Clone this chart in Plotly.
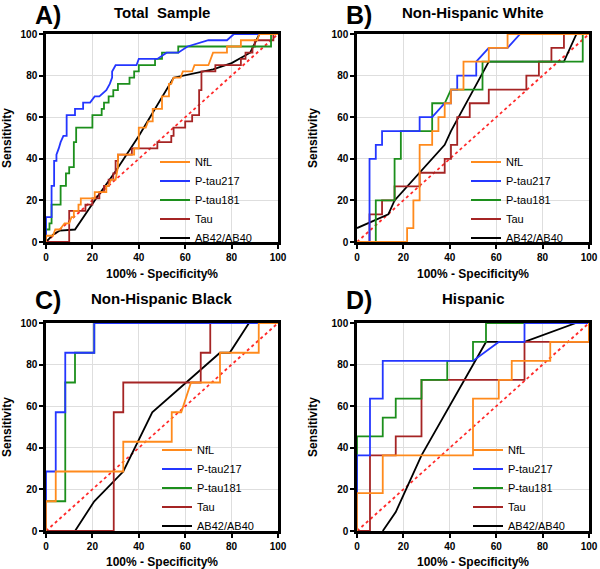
"""ROC curves of plasma biomarkers by ethnic group, redrawn with plotly."""
import plotly.graph_objects as go
from plotly.subplots import make_subplots

W, H = 600, 569

series_names = ['NfL', 'P-tau217', 'P-tau181', 'Tau', 'AB42/AB40']
series_colors = ['#FF8A1C', '#2436FF', '#1C8F1C', '#A52424', '#000000']
panel_letters = ['A)', 'B)', 'C)', 'D)']
panel_titles = ['Total  Sample', 'Non-Hispanic White', 'Non-Hispanic Black', 'Hispanic']
axis_ticks = [0, 20, 40, 60, 80, 100]
diag = [0, 100]

# --- A) Total sample ---
a_nfl_x = [0, 0, 3, 4, 6, 8, 10, 11, 12, 12, 14, 14, 15, 15, 21, 21, 26, 26, 27, 28, 30, 31, 31, 38, 38,
           40, 40, 43, 44, 46, 46, 50, 50, 53, 53, 54, 55, 58, 59, 63, 64, 70, 71, 72, 78, 78, 84, 84,
           91, 92, 100]
a_nfl_y = [0, 3, 3, 6, 6, 9, 9, 12, 12, 15, 15, 18, 18, 21, 21, 24, 24, 27, 27, 30, 30, 36, 42, 42, 45,
           45, 55, 55, 58, 58, 64, 64, 70, 70, 76, 76, 79, 79, 82, 82, 85, 85, 88, 91, 91, 94, 94, 97,
           97, 100, 100]
a_p217_x = [0, 0, 2.4, 2.4, 3.5, 3.5, 4.5, 4.5, 5.5, 6.3, 7.5, 8.9, 8.9, 12.5, 12.5, 16, 16, 19, 21, 23,
            26, 27.5, 28.5, 28.5, 30, 39, 40, 48, 52, 57, 61, 70, 78, 81, 100]
a_p217_y = [0, 12, 12, 27, 27, 39, 39, 42, 45, 48, 51, 51, 61, 61, 64, 64, 67, 67, 70, 70,
            73, 76, 79, 82, 85, 85, 88, 88, 91, 91, 94, 97, 97, 100, 100]
a_p181_x = [0, 0, 1.5, 1.5, 2.4, 2.4, 6.3, 6.3, 8.6, 8.6, 10, 10, 12, 12, 13, 13, 20, 20, 24, 24, 25, 25,
            27, 27, 29, 29, 31, 31, 36, 36, 38, 38, 40, 40, 47, 47, 50, 50, 57, 57, 97, 97, 100]
a_p181_y = [0, 6, 6, 9, 9, 18, 18, 27, 27, 33, 33, 36, 36, 48, 48, 55, 55, 61, 61, 64, 64, 67,
            67, 70, 70, 73, 73, 76, 76, 79, 79, 82, 82, 85, 85, 88, 88, 91, 91, 94, 94, 100, 100]
a_tau_x = [0, 10, 10, 17, 17, 20, 20, 23, 23, 25, 25, 27, 27, 29, 29, 30, 30, 31, 31, 37, 37, 48, 48, 54,
           54, 55, 55, 60, 60, 63, 63, 66, 66, 67, 67, 73, 73, 84, 84, 86, 86, 89, 89, 90, 90, 98, 98, 100]
a_tau_y = [0, 0, 15, 15, 18, 18, 21, 21, 24, 24, 27, 27, 30, 30, 33, 33, 39, 39, 42, 42, 45, 45, 48, 48,
           51, 51, 55, 55, 58, 58, 61, 61, 73, 73, 82, 82, 85, 85, 88, 88, 91, 91, 94, 94, 97, 97, 100, 100]
a_ab_x = [0, 3, 6, 12.5, 21, 30, 40, 48, 55, 72, 80, 88, 92, 100]
a_ab_y = [0, 3.5, 5.5, 6, 20, 34, 51, 66, 79, 83, 86, 91, 100, 100]

# --- B) Non-Hispanic White ---
b_nfl_x = [0, 21.6, 21.6, 24.3, 24.3, 27, 27, 32.4, 32.4, 35.1, 35.1, 37.8, 37.8, 40.5, 40.5, 45.9,
           45.9, 56.8, 56.8, 64.9, 64.9, 100]
b_nfl_y = [0, 0, 6.7, 6.7, 20, 20, 46.7, 46.7, 53.3, 53.3, 60, 60, 66.7, 66.7, 73.3, 73.3,
           86.7, 86.7, 93.3, 93.3, 100, 100]
b_p217_x = [0, 5.4, 5.4, 8.1, 8.1, 10.8, 10.8, 27, 27, 32.4, 37.8, 40.5, 40.5, 43.2, 43.2, 51.4, 51.4,
            56.8, 64.9, 70.3, 100]
b_p217_y = [0, 0, 40, 40, 46.7, 46.7, 53.3, 53.3, 60, 60, 66.7, 66.7, 73.3, 73.3, 80, 80, 86.7,
            93.3, 93.3, 100, 100]
b_p181_x = [0, 8.1, 8.1, 16.2, 16.2, 18.9, 18.9, 32.4, 32.4, 37.8, 40.5, 54.1, 54.1, 97.3, 97.3, 100]
b_p181_y = [0, 0, 20, 20, 40, 40, 53.3, 53.3, 66.7, 66.7, 73.3, 73.3, 86.7, 86.7, 100, 100]
b_tau_x = [0, 5.4, 5.4, 10.8, 10.8, 16.2, 16.2, 27, 27, 37.8, 37.8, 40.5, 40.5, 43.2, 43.2, 48.6, 48.6,
           56.8, 56.8, 73, 73, 78.4, 78.4, 83.8, 83.8, 89.2, 89.2, 100]
b_tau_y = [0, 0, 13.3, 13.3, 20, 20, 26.7, 26.7, 33.3, 33.3, 40, 40, 46.7, 46.7, 60, 60, 66.7,
           66.7, 73.3, 73.3, 80, 80, 86.7, 86.7, 93.3, 93.3, 100, 100]
b_ab_x = [0, 13.5, 16.2, 27, 37.8, 40.5, 56.8, 89.2, 94.6, 100]
b_ab_y = [6.7, 13.3, 20, 33.3, 46.7, 53.3, 86.7, 86.7, 100, 100]

# --- C) Non-Hispanic Black ---
c_nfl_x = [0, 0, 4.2, 4.2, 33.3, 33.3, 54.2, 54.2, 58.3, 62.5, 75, 75, 91.7, 91.7, 100]
c_nfl_y = [0, 14.3, 14.3, 28.6, 28.6, 42.9, 42.9, 57.1, 57.1, 71.4, 71.4, 85.7, 85.7, 100, 100]
c_p217_x = [0, 0, 4.2, 4.2, 8.3, 8.3, 20.8, 20.8, 100]
c_p217_y = [0, 28.6, 28.6, 57.1, 57.1, 85.7, 85.7, 100, 100]
c_p181_x = [0, 0, 8.3, 8.3, 12.5, 12.5, 20.8, 20.8, 100]
c_p181_y = [0, 14.3, 14.3, 71.4, 71.4, 85.7, 85.7, 100, 100]
c_tau_x = [0, 29.2, 29.2, 33.3, 33.3, 66.7, 66.7, 70.8, 70.8, 100]
c_tau_y = [0, 0, 57.1, 57.1, 71.4, 71.4, 85.7, 85.7, 100, 100]
c_ab_x = [12.5, 20.8, 33.3, 45.8, 75, 79.2, 87.5, 100]
c_ab_y = [0, 14.3, 28.6, 57.1, 85.7, 85.7, 100, 100]

# --- D) Hispanic ---
d_nfl_x = [0, 0, 11.1, 11.1, 50, 50, 61.1, 61.1, 66.7, 66.7, 83.3, 83.3, 100, 100]
d_nfl_y = [0, 18.2, 18.2, 36.4, 36.4, 63.6, 63.6, 72.7, 72.7, 81.8, 81.8, 90.9, 90.9, 100]
d_p217_x = [0, 0, 5.6, 5.6, 11.1, 11.1, 50, 61.1, 72.2, 72.2, 100]
d_p217_y = [0, 36.4, 36.4, 63.6, 63.6, 81.8, 81.8, 90.9, 90.9, 100, 100]
d_p181_x = [0, 0, 11.1, 11.1, 16.7, 16.7, 27.8, 27.8, 38.9, 38.9, 50, 50, 55.6, 55.6, 100]
d_p181_y = [0, 45.5, 45.5, 54.5, 54.5, 63.6, 63.6, 72.7, 72.7, 81.8, 81.8, 90.9, 90.9, 100, 100]
d_tau_x = [0, 5.6, 5.6, 16.7, 16.7, 27.8, 27.8, 72.2, 72.2, 100, 100]
d_tau_y = [0, 0, 36.4, 36.4, 45.5, 45.5, 72.7, 72.7, 90.9, 90.9, 100]
d_ab_x = [11.1, 16.7, 27.8, 55.6, 72.2, 94.4, 100]
d_ab_y = [0, 9.1, 36.4, 90.9, 90.9, 100, 100]

panels = [
    [(a_nfl_x, a_nfl_y), (a_p217_x, a_p217_y), (a_p181_x, a_p181_y), (a_tau_x, a_tau_y), (a_ab_x, a_ab_y)],
    [(b_nfl_x, b_nfl_y), (b_p217_x, b_p217_y), (b_p181_x, b_p181_y), (b_tau_x, b_tau_y), (b_ab_x, b_ab_y)],
    [(c_nfl_x, c_nfl_y), (c_p217_x, c_p217_y), (c_p181_x, c_p181_y), (c_tau_x, c_tau_y), (c_ab_x, c_ab_y)],
    [(d_nfl_x, d_nfl_y), (d_p217_x, d_p217_y), (d_p181_x, d_p181_y), (d_tau_x, d_tau_y), (d_ab_x, d_ab_y)],
]

FONT = 'Liberation Sans, Arial, sans-serif'


def px_x(p):
    """Pixel from the left to paper fraction."""
    return p / W


def px_y(p):
    """Pixel from the top to paper fraction."""
    return 1 - p / H


# plot boxes in pixels (left, right, top, bottom)
boxes = [(46, 278, 34, 242), (357, 589, 34, 242), (46, 278, 323, 531), (357, 589, 323, 531)]
# legend left edge and vertical centre, pixels
legend_pos = [(155, 200), (466, 200), (157, 488), (468, 488)]

fig = make_subplots(rows=2, cols=2)

for i, data in enumerate(panels):
    row, col = i // 2 + 1, i % 2 + 1
    legend_id = 'legend' if i == 0 else f'legend{i + 1}'
    fig.add_trace(go.Scatter(x=diag, y=diag, mode='lines', showlegend=False,
                             line=dict(color='#FF2A2A', width=1.8, dash='3px,3px')),
                  row=row, col=col)
    # draw black first so NfL ends up on top (as in the original)
    for k in reversed(range(len(series_names))):
        xs, ys = data[k]
        fig.add_trace(go.Scatter(x=xs, y=ys, mode='lines', name=series_names[k],
                                 legend=legend_id,
                                 line=dict(color=series_colors[k], width=1.8)),
                      row=row, col=col)

    left, right, top, bottom = boxes[i]
    axis_style = dict(range=[0, 100], tickvals=axis_ticks, showline=True, linewidth=2.5,
                      linecolor='black', mirror=True, ticks='outside', ticklen=4, tickwidth=2,
                      tickcolor='black', showgrid=True, gridcolor='#DEDEDE', gridwidth=1,
                      zeroline=False, automargin=False,
                      tickfont=dict(family=FONT, size=10, color='black', weight='bold'))
    fig.update_xaxes(domain=[px_x(left), px_x(right)],
                     title=dict(text='100% - Specificity%', standoff=8,
                                font=dict(family=FONT, size=12, color='black', weight='bold')),
                     row=row, col=col, **axis_style)
    fig.update_yaxes(domain=[px_y(bottom), px_y(top)],
                     title=dict(text='Sensitivity', standoff=12,
                                font=dict(family=FONT, size=12, color='black', weight='bold')),
                     row=row, col=col, **axis_style)

    lx, ly = legend_pos[i]
    fig.update_layout({legend_id: dict(x=px_x(lx), y=px_y(ly), xanchor='left', yanchor='middle',
                                       traceorder='reversed', bgcolor='rgba(0,0,0,0)',
                                       font=dict(family=FONT, size=11, color='black'))})

    mid_y = 15 if i < 2 else 300
    fig.add_annotation(x=px_x(left - 13), y=px_y(mid_y), xref='paper', yref='paper',
                       text=f'<b>{panel_letters[i]}</b>', showarrow=False,
                       xanchor='left', yanchor='middle',
                       font=dict(family=FONT, size=25, color='black'))
    fig.add_annotation(x=px_x((left + right) / 2), y=px_y(mid_y - 2), xref='paper',
                       yref='paper', text=f'<b>{panel_titles[i]}</b>', showarrow=False,
                       xanchor='center', yanchor='middle',
                       font=dict(family=FONT, size=15, color='black'))

fig.update_layout(width=W, height=H, margin=dict(l=0, r=0, t=0, b=0),
                  plot_bgcolor='white', paper_bgcolor='white')

# the default page leaves an 8 px body margin round the figure; drop it so the
# figure fills the window exactly, and keep the mode bar off the panel titles
fig.write_html("out.html", config={'displayModeBar': False},
               post_script="document.body.style.margin = '0px';")
